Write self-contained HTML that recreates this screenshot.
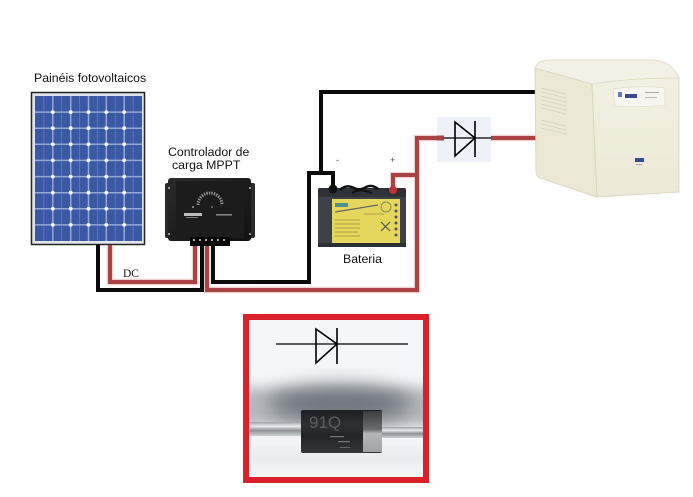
<!DOCTYPE html>
<html><head><meta charset="utf-8"><style>
html,body{margin:0;padding:0;background:#fff;}
svg{display:block;}
text{font-family:"Liberation Sans",Arial,sans-serif;}
</style></head><body>
<svg width="693" height="497" viewBox="0 0 693 497" xmlns="http://www.w3.org/2000/svg">
<defs>
  <filter id="blur10" x="-50%" y="-50%" width="200%" height="200%"><feGaussianBlur stdDeviation="10"/></filter>
  <filter id="blur6" x="-50%" y="-50%" width="200%" height="200%"><feGaussianBlur stdDeviation="6"/></filter>
  <clipPath id="photo"><rect x="249" y="320" width="174" height="157"/></clipPath>
  <linearGradient id="lead" x1="0" y1="0" x2="0" y2="1">
    <stop offset="0" stop-color="#9aa0a6"/><stop offset="0.3" stop-color="#e8eaec"/>
    <stop offset="0.6" stop-color="#8c9196"/><stop offset="1" stop-color="#cfd3d6"/>
  </linearGradient>
  <linearGradient id="body" x1="0" y1="0" x2="0" y2="1">
    <stop offset="0" stop-color="#1c1e22"/><stop offset="0.35" stop-color="#2e3034"/>
    <stop offset="0.6" stop-color="#222428"/><stop offset="1" stop-color="#34363a"/>
  </linearGradient>
  <linearGradient id="ctrl" x1="0" y1="0" x2="1" y2="1">
    <stop offset="0" stop-color="#2a2a2a"/><stop offset="1" stop-color="#111"/>
  </linearGradient>
  <linearGradient id="upsfront" x1="0" y1="0" x2="0" y2="1">
    <stop offset="0" stop-color="#f2f0e2"/><stop offset="1" stop-color="#ece9d6"/>
  </linearGradient>
  <linearGradient id="band" x1="0" y1="0" x2="0" y2="1">
    <stop offset="0" stop-color="#3c3e42"/><stop offset="0.45" stop-color="#6a6c70"/>
    <stop offset="0.55" stop-color="#b4b6b8"/><stop offset="1" stop-color="#a0a2a4"/>
  </linearGradient>
</defs>
<rect width="693" height="497" fill="#fff"/>

<!-- Solar panel -->
<rect x="31.5" y="92.5" width="113" height="152" fill="#dfe3ea" stroke="#222" stroke-width="1.5"/>
<rect x="35" y="96" width="107" height="145" fill="#3b58a5"/>
<g stroke="#6a80c0" stroke-width="0.7">
  <line x1="43.9" y1="96" x2="43.9" y2="241"/><line x1="61.7" y1="96" x2="61.7" y2="241"/>
  <line x1="79.6" y1="96" x2="79.6" y2="241"/><line x1="97.4" y1="96" x2="97.4" y2="241"/>
  <line x1="115.2" y1="96" x2="115.2" y2="241"/><line x1="133.1" y1="96" x2="133.1" y2="241"/>
</g>
<g stroke="#93a7d8" stroke-width="1.5">
  <line x1="52.8" y1="96" x2="52.8" y2="241"/><line x1="70.7" y1="96" x2="70.7" y2="241"/>
  <line x1="88.5" y1="96" x2="88.5" y2="241"/><line x1="106.3" y1="96" x2="106.3" y2="241"/>
  <line x1="124.2" y1="96" x2="124.2" y2="241"/>
  <line x1="35" y1="112.1" x2="142" y2="112.1"/><line x1="35" y1="128.2" x2="142" y2="128.2"/>
  <line x1="35" y1="144.3" x2="142" y2="144.3"/><line x1="35" y1="160.4" x2="142" y2="160.4"/>
  <line x1="35" y1="176.6" x2="142" y2="176.6"/><line x1="35" y1="192.7" x2="142" y2="192.7"/>
  <line x1="35" y1="208.8" x2="142" y2="208.8"/><line x1="35" y1="224.9" x2="142" y2="224.9"/>
</g>
<g fill="#fff">
  <g id="dotrow">
    <circle cx="52.8" cy="0" r="1.9"/><circle cx="70.7" cy="0" r="1.9"/><circle cx="88.5" cy="0" r="1.9"/>
    <circle cx="106.3" cy="0" r="1.9"/><circle cx="124.2" cy="0" r="1.9"/>
  </g>
</g>
<g fill="#fff">
  <use href="#dotrow" y="112.1"/><use href="#dotrow" y="128.2"/><use href="#dotrow" y="144.3"/>
  <use href="#dotrow" y="160.4"/><use href="#dotrow" y="176.6"/><use href="#dotrow" y="192.7"/>
  <use href="#dotrow" y="208.8"/><use href="#dotrow" y="224.9"/>
</g>

<!-- Wires: red halo -->
<g fill="none" stroke="#e9bcbc" stroke-width="6.5" stroke-linejoin="miter" opacity="0.7">
  <path d="M110 245 V282 H195 V245"/>
  <path d="M207 245 V290 H417 V138 H444"/>
  <path d="M393 190 V175 H417"/>
  <path d="M490 138 H536"/>
</g>
<g fill="none" stroke="#a84343" stroke-width="4" stroke-linejoin="miter">
  <path d="M110 245 V282 H195 V245"/>
  <path d="M207 245 V290 H417 V138 H444"/>
  <path d="M393 190 V175 H417"/>
  <path d="M490 138 H536"/>
</g>
<g fill="none" stroke="#0a0a0a" stroke-width="4" stroke-linejoin="miter">
  <path d="M98 245 V290 H202 V245"/>
  <path d="M213 245 V282 H309 V173 H333 V188"/>
  <path d="M321 173 V92 H536"/>
</g>

<!-- Top diode box -->
<rect x="437" y="117" width="54" height="45" fill="#eef2f8"/>
<line x1="443" y1="138" x2="491" y2="138" stroke="#000" stroke-width="1.3"/>
<polygon points="455,122 455,156 475,138" fill="none" stroke="#000" stroke-width="1.6"/>
<line x1="475" y1="121" x2="475" y2="157" stroke="#000" stroke-width="1.6"/>
<rect x="437" y="135.5" width="7" height="5" fill="#a84343"/>

<!-- Controller -->
<rect x="165" y="183" width="90" height="55" rx="2" fill="#2a2a2a"/>
<rect x="168" y="178" width="83" height="63" rx="3" fill="url(#ctrl)"/>
<rect x="176" y="181" width="68" height="57" fill="#1c1c1c"/>
<g fill="#bbb"><circle cx="169" cy="188" r="1"/><circle cx="250" cy="188" r="1"/><circle cx="169" cy="234" r="1"/><circle cx="250" cy="234" r="1"/></g>
<path d="M198 205 A12 12 0 0 1 222 205" fill="none" stroke="#8a8a8a" stroke-width="3" stroke-dasharray="1.5 1"/>
<circle cx="193" cy="207" r="0.9" fill="#ccc"/><circle cx="212" cy="207" r="0.8" fill="#aaa"/>
<rect x="184" y="213" width="18" height="3" fill="#bdbdbd"/>
<rect x="186" y="217" width="12" height="1" fill="#777"/>
<rect x="216" y="214" width="16" height="1.5" fill="#888"/>
<rect x="190" y="237" width="40" height="9" fill="#050505"/>
<g fill="#ddd"><circle cx="194" cy="240" r="1"/><circle cx="200" cy="240" r="1"/><circle cx="206" cy="240" r="1"/><circle cx="212" cy="240" r="1"/><circle cx="218" cy="240" r="1"/><circle cx="224" cy="240" r="1"/></g>

<!-- Battery -->
<rect x="318" y="188" width="88" height="59" rx="2" fill="#3d4248"/>
<rect x="318" y="188" width="88" height="9" rx="2" fill="#2e3237"/>
<path d="M340 190 q6 -6 14 -2 q6 3 12 -1 q6 -3 12 2" fill="none" stroke="#111" stroke-width="2.5"/>
<path d="M352 193 q8 -5 20 0" fill="none" stroke="#111" stroke-width="2"/>
<rect x="332" y="199" width="68" height="44" fill="#e4d75c"/>
<rect x="335" y="203" width="13" height="4" fill="#4f8f92"/>
<line x1="335" y1="212" x2="378" y2="205" stroke="#666" stroke-width="1.2"/>
<g stroke="#9a9040" stroke-width="0.7">
  <line x1="335" y1="220" x2="360" y2="220"/><line x1="335" y1="224" x2="360" y2="224"/>
  <line x1="335" y1="228" x2="360" y2="228"/><line x1="335" y1="232" x2="358" y2="232"/>
  <line x1="335" y1="236" x2="360" y2="236"/><line x1="364" y1="214" x2="384" y2="214"/>
</g>
<circle cx="386" cy="207" r="5" fill="none" stroke="#8a8660" stroke-width="1"/>
<path d="M381 222 l9 9 M390 222 l-9 9" stroke="#555" stroke-width="1.2"/>
<g fill="#555"><circle cx="396" cy="205" r="1.5"/><circle cx="396" cy="211" r="1.5"/><circle cx="396" cy="217" r="1.5"/><circle cx="396" cy="223" r="1.5"/><circle cx="396" cy="229" r="1.5"/><circle cx="396" cy="235" r="1.5"/></g>
<rect x="318" y="243" width="88" height="4" fill="#2c3035"/>
<circle cx="333" cy="189" r="4.5" fill="#111"/>
<circle cx="393" cy="190" r="4" fill="#c2303a"/>

<!-- UPS -->
<path d="M535 68 L592 84 L597 197 L540 178 Q536 176 536 172 Z" fill="#ebe8d4" stroke="#d8d3bb" stroke-width="0.8"/>
<path d="M592 84 Q630 78 679 78 L679 192 L597 197 Z" fill="url(#upsfront)" stroke="#d8d3bb" stroke-width="0.8"/>
<path d="M535 68 Q538 60 550 60 L655 60 Q672 62 679 78 Q630 78 592 84 Z" fill="#f3f1e6" stroke="#dcd7be" stroke-width="0.8"/>
<g stroke="#d6d2ba" stroke-width="0.8">
  <line x1="541" y1="88" x2="566" y2="94"/><line x1="541" y1="92" x2="566" y2="98"/>
  <line x1="541" y1="96" x2="566" y2="102"/><line x1="541" y1="100" x2="566" y2="106"/>
  <line x1="541" y1="104" x2="566" y2="110"/><line x1="541" y1="108" x2="566" y2="114"/>
  <line x1="541" y1="120" x2="566" y2="126"/><line x1="541" y1="124" x2="566" y2="130"/>
  <line x1="541" y1="128" x2="566" y2="134"/>
</g>
<path d="M613 89 Q640 85 665 88 L665 105 Q640 108 615 106 Z" fill="#f7f6ef" stroke="#ddd8c4" stroke-width="0.6"/>
<rect x="618" y="92" width="4" height="5" fill="#6a7ab0"/>
<rect x="625" y="94" width="12" height="4" fill="#3a4a90"/>
<rect x="645" y="92" width="14" height="1" fill="#aaa"/>
<rect x="645" y="97" width="12" height="1" fill="#bbb"/>
<rect x="635" y="158" width="9" height="4" fill="#3a4a90"/>
<rect x="636" y="164" width="6" height="1" fill="#aaa"/>

<!-- Labels -->
<text x="34" y="82" font-size="12.3" fill="#111">Painéis fotovoltaicos</text>
<text x="168" y="156" font-size="12.3" fill="#111">Controlador de</text>
<text x="172" y="169" font-size="12.3" fill="#111">carga MPPT</text>
<text x="343" y="263" font-size="12.3" fill="#111">Bateria</text>
<text x="123" y="277" font-size="11.5" fill="#111" style="font-family:'Liberation Serif',serif">DC</text>
<text x="336" y="163" font-size="9" fill="#555">-</text>
<text x="390" y="163" font-size="9" fill="#555">+</text>

<!-- Bottom framed diode -->
<rect x="249" y="320" width="174" height="157" fill="#f4f6f9"/>
<g clip-path="url(#photo)">
  <rect x="230" y="388" width="210" height="38" fill="#b6babe" filter="url(#blur6)"/>
  <ellipse cx="340" cy="404" rx="72" ry="18" fill="#6e747a" filter="url(#blur10)"/>
  <rect x="230" y="448" width="210" height="18" fill="#e8ebee" filter="url(#blur6)"/>
  <rect x="249" y="422" width="52" height="14" fill="url(#lead)"/>
  <rect x="381" y="427" width="42" height="11" fill="url(#lead)"/>
  <rect x="301" y="410" width="81" height="43" rx="2" fill="url(#body)"/>
  <rect x="363" y="411" width="19" height="41" fill="url(#band)"/>
  <text x="309" y="428" font-size="17" fill="#5a5d61">91Q</text>
  <rect x="330" y="436" width="14" height="1.2" fill="#777"/>
  <rect x="338" y="441" width="12" height="1.2" fill="#777"/>
  <rect x="340" y="447" width="10" height="1" fill="#666"/>
</g>
<rect x="246" y="317" width="180" height="163" fill="none" stroke="#da2129" stroke-width="6"/>
<line x1="276" y1="344" x2="408" y2="344" stroke="#000" stroke-width="1.3"/>
<polygon points="316,329 316,363 337,344" fill="none" stroke="#000" stroke-width="1.6"/>
<line x1="337" y1="328" x2="337" y2="364" stroke="#000" stroke-width="1.6"/>
</svg>
</body></html>
